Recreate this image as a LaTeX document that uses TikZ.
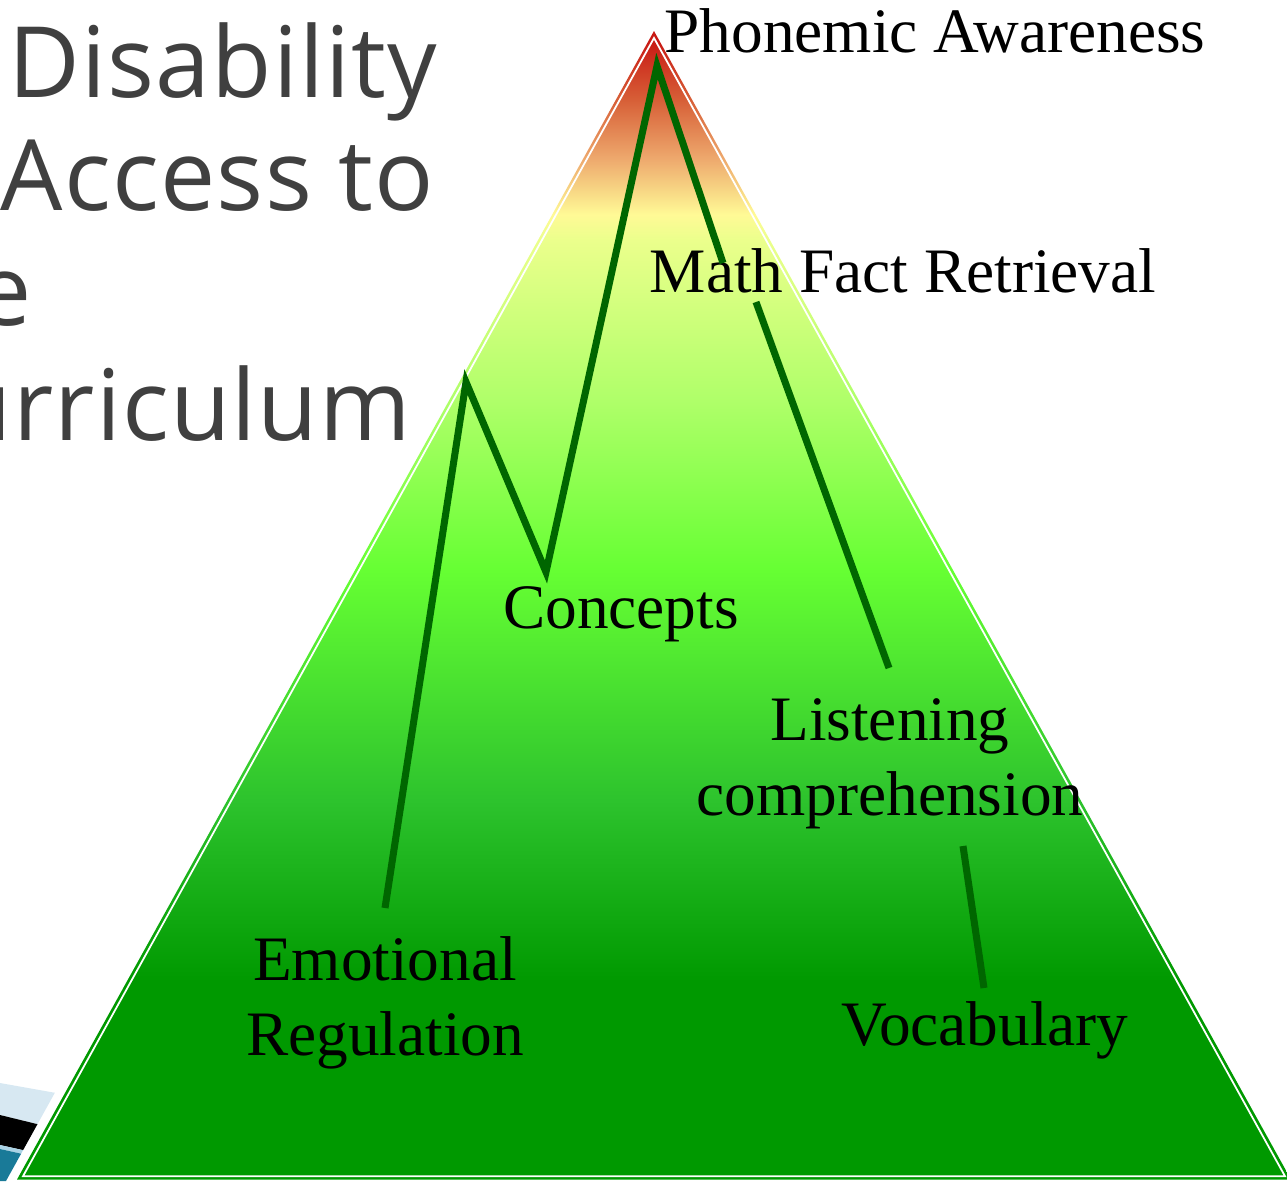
\documentclass[tikz,border=0pt]{standalone}
\usepackage{fontspec}
\setmainfont{Liberation Serif}
\newfontfamily\ttlfamily[LetterSpace=1.2]{Open Sans}
\usetikzlibrary{%
  positioning
 ,calc
}
\definecolor{pgreen}{RGB}{0,153,0}
\definecolor{pmid}{RGB}{45,195,45}
\definecolor{plime}{RGB}{102,255,51}
\definecolor{plight}{RGB}{175,255,105}
\definecolor{pyelgr}{RGB}{235,255,140}
\definecolor{pyel}{RGB}{255,250,150}
\definecolor{porl}{RGB}{238,170,110}
\definecolor{pora}{RGB}{215,95,55}
\definecolor{pred}{RGB}{200,25,20}
\definecolor{linkgreen}{RGB}{0,102,0}
\definecolor{titlegray}{RGB}{64,64,64}
\definecolor{picblue}{RGB}{215,232,242}
\definecolor{picsep}{RGB}{170,210,228}
\definecolor{picteal}{RGB}{25,122,152}
\pgfdeclareverticalshading{pyramid}{100bp}{color(0bp)=(pgreen); color(25bp)=(pgreen);
  color(33.6bp)=(pgreen); color(41.5bp)=(pmid); color(51.5bp)=(plime);
  color(58.9bp)=(plight); color(65.9bp)=(pyelgr); color(67bp)=(pyel);
  color(69.4bp)=(porl); color(72bp)=(pora); color(74.6bp)=(pred);
  color(75bp)=(pred); color(100bp)=(pred)}
\tikzstyle{lbl}=[font=\fontsize{18}{21.3}\selectfont,text=black,inner sep=0pt,align=center]
\tikzstyle{ttl}=[font=\ttlfamily\fontsize{28}{34}\selectfont,text=titlegray,inner sep=0pt,anchor=base east]
\tikzstyle{link}=[draw=linkgreen,line width=2pt]

\begin{document}
\begin{tikzpicture}[x=0.01cm,y=-0.01cm]
  \useasboundingbox (0,0) rectangle (1287,1181);
  \begin{scope}
    \clip (0,1060) -- (73,1060) -- (6,1181) -- (0,1181) -- cycle;
    \fill[picblue] (0,1083) -- (90,1099) -- (90,1137) -- (0,1115) -- cycle;
    \fill[black] (0,1115) -- (90,1137) -- (90,1165) -- (0,1145) -- cycle;
    \fill[picsep] (0,1145) -- (90,1165) -- (90,1169) -- (0,1149) -- cycle;
    \fill[picteal] (0,1149) -- (90,1169) -- (90,1190) -- (0,1190) -- cycle;
  \end{scope}
  \shade[shading=pyramid] (654,31) -- (17,1179.5) -- (1291,1179.5) -- cycle;
  \draw[white,line width=0.5pt] (654,38) -- (23,1176.2) -- (1285,1176.2) -- cycle;

  \node[ttl] (t_0) at (438,97)  {Disability};
  \node[ttl] (t_1) at (435,210) {Access to};
  \node[ttl] (t_2) at (32,325)  {e};
  \node[ttl] (t_3) at (412,440) {urriculum};

  \node[lbl,anchor=base] (pa)  at (935,52)   {Phonemic Awareness};
  \node[lbl,anchor=base] (mfr) at (903,292)  {Math Fact Retrieval};
  \node[lbl,anchor=base] (con) at (621,628)  {Concepts};
  \node[lbl,anchor=base] (lc)  at (890,815)  {Listening\\comprehension};
  \node[lbl,anchor=base] (er)  at (385,1055) {Emotional\\Regulation};
  \node[lbl,anchor=base] (voc) at (985,1045) {Vocabulary};

  \coordinate (er_t)  at (385,908);
  \coordinate (k_0)   at (466,382);
  \coordinate (con_t) at (546,572);
  \coordinate (pa_b)  at (657,66);
  \coordinate (mfr_t) at (723,263);
  \coordinate (mfr_b) at (756,302);
  \coordinate (lc_t)  at (889,668);
  \coordinate (lc_b)  at (963,846);
  \coordinate (voc_t) at (984,988);

  \draw[link] (er_t) -- (k_0) -- (con_t) -- (pa_b) -- (mfr_t);
  \path[link]
    (mfr_b) edge (lc_t)
    (lc_b)  edge (voc_t);
\end{tikzpicture}
\end{document}
